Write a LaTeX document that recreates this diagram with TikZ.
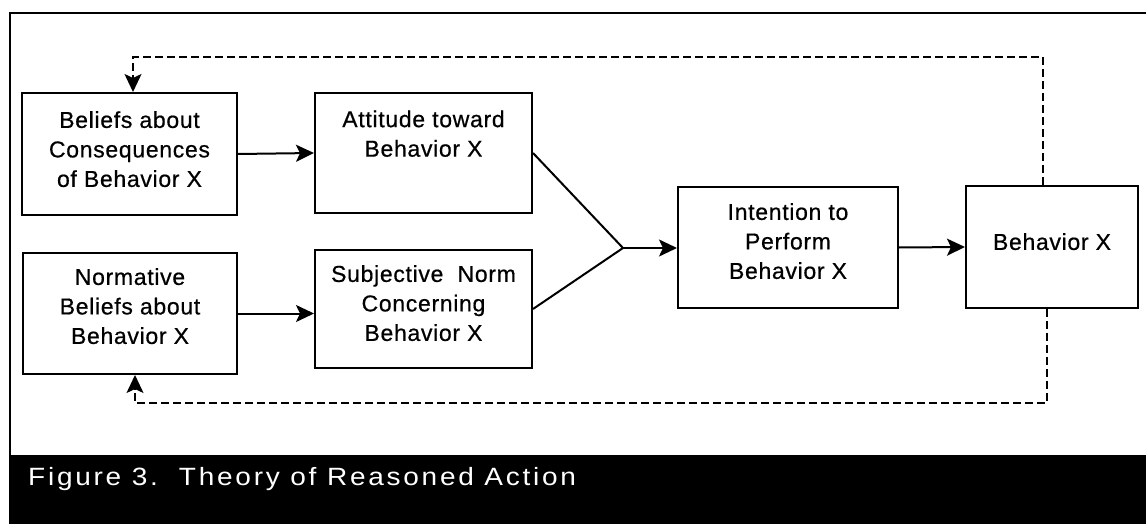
\documentclass[tikz,border=0pt]{standalone}
\usepackage{fontspec}
\setmainfont{Liberation Sans}
\newfontfamily\boxfont[LetterSpace=3,FakeBold=0.6]{Liberation Sans}
\newfontfamily\capfont[LetterSpace=11,FakeStretch=1.12]{Liberation Sans}
\usetikzlibrary{arrows.meta}
% lines of a box, raised by #1 above the box's centre position
\newcommand\boxlines[2][0pt]{\setbox0\hbox{\begin{tabular}{@{}c@{}}#2\end{tabular}}%
  \dp0=\dimexpr\dp0+#1*2\relax\box0}
\tikzset{
  box/.style={draw, line width=2pt, inner sep=0pt,
    font=\boxfont\fontsize{23}{29.5}\selectfont},
  conn/.style={line width=2pt, -{Stealth[length=18pt,width=17pt,inset=4pt]}},
  plain/.style={line width=2pt},
  fb/.style={line width=1.6pt, dash pattern=on 8pt off 4pt},
  fbarrow/.style={fb, -{Stealth[length=18pt,width=17pt,inset=4pt]}},
}
\begin{document}
\begin{tikzpicture}[x=1pt,y=-1pt]
\useasboundingbox (0,0) rectangle (1146,524);
% frame and caption band
\draw[line width=1.8pt] (1146,13) -- (10,13) -- (10,456);
\fill[black] (9,455) rectangle (1146,524);
\node[anchor=base west, text=white, inner sep=0pt,
  font=\capfont\fontsize{25}{30}\selectfont] (cap) at (28,485)
  {Figure 3.\ \ Theory of Reasoned Action};
% boxes
\node[box, minimum width=215pt, minimum height=122pt] (b1) at (129.5,154)
  {\boxlines[2.5pt]{Beliefs about\\Consequences\\of Behavior X}};
\node[box, minimum width=217pt, minimum height=120pt] (b2) at (423.5,153)
  {\boxlines[17pt]{Attitude toward\\Behavior X}};
\node[box, minimum width=214pt, minimum height=121pt] (b3) at (130,313.5)
  {\boxlines[5pt]{Normative\\Beliefs about\\Behavior X}};
\node[box, minimum width=217pt, minimum height=118pt] (b4) at (423.5,309)
  {\boxlines[3.5pt]{Subjective\ \ Norm\\Concerning\\Behavior X}};
\node[box, minimum width=220pt, minimum height=121pt] (b5) at (788,247.5)
  {\boxlines[4pt]{Intention to\\Perform\\Behavior X}};
\node[box, minimum width=172pt, minimum height=122pt] (b6) at (1052,247)
  {\boxlines[3pt]{Behavior X}};
% connectors
\coordinate (j) at (623,248);
\draw[conn] (b1.east) -- (b2.west);
\draw[conn] (b3.east) -- (b3.east -| b4.west);
\draw[plain] (b2.east) -- (j);
\draw[plain] (b4.east) -- (j);
\draw[conn] (j) -- (j -| b5.west);
\draw[conn] (b5.east) -- (b6.west);
% feedback loops
\coordinate (t1) at (1043,57);
\coordinate (t2) at (133,57);
\draw[fbarrow] (t1 |- b6.north) -- (t1) -- (t2) -- (t2 |- b1.north);
\coordinate (u1) at (1047,403);
\coordinate (u2) at (135,403);
\draw[fbarrow] (u1 |- b6.south) -- (u1) -- (u2) -- (u2 |- b3.south);
\end{tikzpicture}
\end{document}
